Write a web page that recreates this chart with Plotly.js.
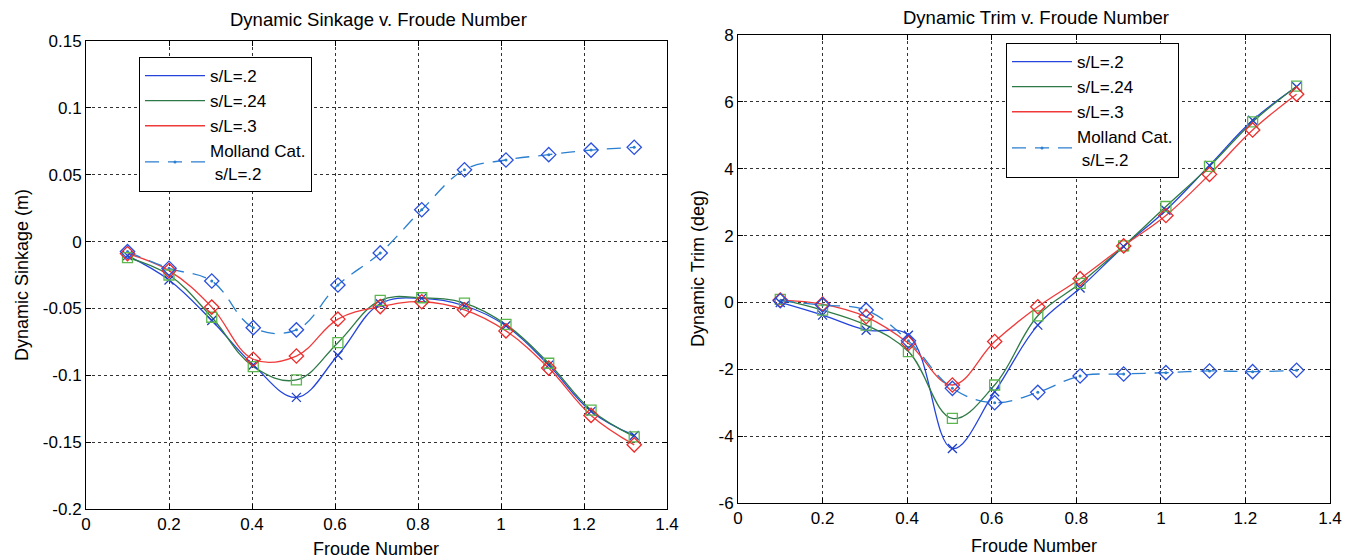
<!DOCTYPE html>
<html>
<head>
<meta charset="utf-8">
<script src="https://cdn.plot.ly/plotly-3.0.1.min.js"></script>
<style>html,body{margin:0;padding:0;background:#fff;}#chart{width:1353px;height:560px;}</style>
</head>
<body>
<div id="chart"></div>
<script>
// ---- data ----
const froude = [0.1, 0.2, 0.303, 0.403, 0.507, 0.607, 0.709, 0.809, 0.912, 1.012, 1.115, 1.217, 1.321];

const sinkSL020 = [-0.0105, -0.0287, -0.059, -0.0923, -0.1165, -0.085, -0.0465, -0.0425, -0.048, -0.063, -0.0924, -0.127, -0.145];
const sinkSL024 = [-0.012, -0.025, -0.0566, -0.0935, -0.1035, -0.0756, -0.044, -0.042, -0.046, -0.062, -0.091, -0.126, -0.146];
const sinkSL030 = [-0.009, -0.0217, -0.049, -0.088, -0.0856, -0.058, -0.0486, -0.045, -0.051, -0.0668, -0.0946, -0.130, -0.152];
const sinkMolland = [-0.0075, -0.020, -0.0295, -0.0644, -0.066, -0.0325, -0.0085, 0.0238, 0.0537, 0.061, 0.065, 0.0684, 0.0705];

const trimSL020 = [0.0, -0.38, -0.83, -0.98, -4.37, -2.67, -0.68, 0.43, 1.67, 2.76, 4.1, 5.45, 6.45];
const trimSL024 = [0.09, -0.23, -0.68, -1.47, -3.47, -2.47, -0.40, 0.57, 1.69, 2.87, 4.07, 5.4, 6.47];
const trimSL030 = [0.07, -0.05, -0.43, -1.22, -2.47, -1.17, -0.13, 0.71, 1.69, 2.6, 3.83, 5.16, 6.23];
const trimMolland = [0.05, -0.08, -0.23, -1.15, -2.57, -3.0, -2.69, -2.2, -2.14, -2.1, -2.05, -2.07, -2.03];

const seriesNames = ['s/L=.2', 's/L=.24', 's/L=.3', 'Molland Cat.<br> s/L=.2'];
const xTickVals = [0, 0.2, 0.4, 0.6, 0.8, 1, 1.2, 1.4];
const xTickText = ['0', '0.2', '0.4', '0.6', '0.8', '1', '1.2', '1.4'];
const sinkTickVals = [-0.2, -0.15, -0.1, -0.05, 0, 0.05, 0.1, 0.15];
const sinkTickText = ['-0.2', '-0.15', '-0.1', '-0.05', '0', '0.05', '0.1', '0.15'];
const trimTickVals = [-6, -4, -2, 0, 2, 4, 6, 8];
const trimTickText = ['-6', '-4', '-2', '0', '2', '4', '6', '8'];

// ---- styles ----
const FONT = 'Liberation Sans, Arial, Helvetica, sans-serif';
const styles = [
  {line: '#2444dc', marker: '#2040c8', symbol: 'x-thin-open', dash: 'solid', msize: 9},
  {line: '#2e7a46', marker: '#5cb84e', symbol: 'square-open', dash: 'solid', msize: 10},
  {line: '#f03a3a', marker: '#ee2a2a', symbol: 'diamond-open', dash: 'solid', msize: 11},
  {line: '#2a7fcf', marker: '#2a50e0', symbol: 'diamond-open', dash: '14px,9px', msize: 11}
];

function makeTraces(ys, xa, ya, legendName) {
  const out = [];
  ys.forEach((y, i) => {
    const s = styles[i];
    const isMolland = i === 3;
    out.push({
      x: froude, y: y, xaxis: xa, yaxis: ya,
      type: 'scatter',
      mode: isMolland ? 'lines+markers' : 'lines',
      name: seriesNames[i],
      legend: legendName,
      line: {color: s.line, width: 1.3, dash: s.dash, shape: 'spline', smoothing: 1.1},
      marker: {symbol: 'circle', size: 3, color: s.line},
      hoverinfo: 'x+y'
    });
  });
  ys.forEach((y, i) => {
    const s = styles[i];
    out.push({
      x: froude, y: y, xaxis: xa, yaxis: ya,
      type: 'scatter', mode: 'markers', showlegend: false,
      marker: {symbol: s.symbol, size: s.msize, color: s.marker,
               line: {color: s.marker, width: 1.3}},
      hoverinfo: 'x+y'
    });
  });
  return out;
}

const data = [].concat(
  makeTraces([sinkSL020, sinkSL024, sinkSL030, sinkMolland], 'x', 'y', 'legend'),
  makeTraces([trimSL020, trimSL024, trimSL030, trimMolland], 'x2', 'y2', 'legend2')
);

const W = 1353, H = 560;
function axisBase() {
  return {
    showline: true, linecolor: '#000', linewidth: 1, mirror: 'ticks',
    ticks: 'inside', ticklen: 5, tickcolor: '#000', tickwidth: 1,
    showgrid: true, gridcolor: '#333', gridwidth: 1, griddash: '3px,3px',
    zeroline: false, fixedrange: true,
    tickfont: {family: FONT, size: 17, color: '#000'},
    tickmode: 'array'
  };
}
const legendBase = {
  bgcolor: '#fff', bordercolor: '#000', borderwidth: 1,
  font: {family: FONT, size: 17, color: '#000'},
  xanchor: 'left', yanchor: 'top', valign: 'middle', tracegroupgap: 0,
  itemwidth: 60
};
const titleFont = {family: FONT, size: 18.5, color: '#000'};
const annFont = {family: FONT, size: 18, color: '#000'};

const layout = {
  width: W, height: H,
  margin: {l: 0, r: 0, t: 0, b: 0},
  paper_bgcolor: '#fff', plot_bgcolor: '#fff',
  xaxis: Object.assign(axisBase(), {domain: [86 / W, 667 / W], range: [0, 1.4], tickvals: xTickVals, ticktext: xTickText, anchor: 'y'}),
  yaxis: Object.assign(axisBase(), {domain: [1 - 509 / H, 1 - 41 / H], range: [-0.2, 0.15], tickvals: sinkTickVals, ticktext: sinkTickText, anchor: 'x'}),
  xaxis2: Object.assign(axisBase(), {domain: [738 / W, 1330 / W], range: [0, 1.4], tickvals: xTickVals, ticktext: xTickText, anchor: 'y2'}),
  yaxis2: Object.assign(axisBase(), {domain: [1 - 503 / H, 1 - 35 / H], range: [-6, 8], tickvals: trimTickVals, ticktext: trimTickText, anchor: 'x2'}),
  legend: Object.assign({}, legendBase, {x: 139 / W, y: 1 - 57 / H}),
  legend2: Object.assign({}, legendBase, {x: 1006 / W, y: 1 - 43 / H}),
  showlegend: true,
  annotations: [
    {text: 'Dynamic Sinkage v. Froude Number', xref: 'paper', yref: 'paper', x: 378 / W, y: 1 - 20 / H, xanchor: 'center', yanchor: 'middle', showarrow: false, font: titleFont},
    {text: 'Dynamic Trim v. Froude Number', xref: 'paper', yref: 'paper', x: 1036 / W, y: 1 - 17 / H, xanchor: 'center', yanchor: 'middle', showarrow: false, font: titleFont},
    {text: 'Froude Number', xref: 'paper', yref: 'paper', x: 376 / W, y: 1 - 549 / H, xanchor: 'center', yanchor: 'middle', showarrow: false, font: annFont},
    {text: 'Froude Number', xref: 'paper', yref: 'paper', x: 1034 / W, y: 1 - 546 / H, xanchor: 'center', yanchor: 'middle', showarrow: false, font: annFont},
    {text: 'Dynamic Sinkage (m)', xref: 'paper', yref: 'paper', x: 22 / W, y: 1 - 275 / H, xanchor: 'center', yanchor: 'middle', textangle: -90, showarrow: false, font: annFont},
    {text: 'Dynamic Trim (deg)', xref: 'paper', yref: 'paper', x: 698 / W, y: 1 - 269 / H, xanchor: 'center', yanchor: 'middle', textangle: -90, showarrow: false, font: annFont}
  ]
};

Plotly.newPlot('chart', data, layout, {displayModeBar: false, staticPlot: true});
</script>
</body>
</html>
